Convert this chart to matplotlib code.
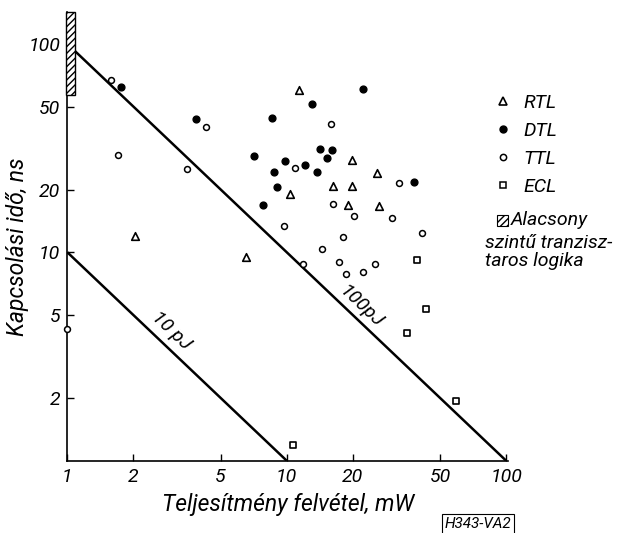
import matplotlib
matplotlib.use('Agg')
import numpy as np
import matplotlib.pyplot as plt
from matplotlib.patches import Rectangle
from matplotlib.lines import Line2D

plt.rcParams['font.family'] = ['Roboto', 'DejaVu Sans']
plt.rcParams['font.style'] = 'italic'

# power (mW) / switching time (ns)
rtl_power = [11.4, 19.8, 25.7, 10.4, 16.2, 19.8, 18.95, 26.2, 6.53, 2.03]
rtl_delay = [59.7, 27.8, 23.9, 19.1, 20.7, 20.7, 16.9, 16.7, 9.5, 12.0]

dtl_power = [1.76, 3.85, 7.10, 8.61, 13.0, 22.2, 14.2, 16.1, 15.3, 9.79,
             12.1, 8.73, 13.7, 9.03, 38.0, 7.80]
dtl_delay = [62.0, 43.6, 28.8, 44.0, 51.3, 60.8, 31.3, 30.9, 28.4, 27.4,
             26.2, 24.4, 24.3, 20.6, 21.7, 16.9]

ttl_power = [1.58, 4.28, 1.70, 3.52, 15.9, 10.9, 32.4, 16.2, 20.2, 30.1,
             9.69, 41.5, 18.0, 14.5, 17.3, 11.8, 25.2, 18.7, 22.2, 1.0]
ttl_delay = [67.2, 39.8, 29.3, 25.2, 41.2, 25.3, 21.4, 17.0, 14.9, 14.6,
             13.3, 12.4, 11.8, 10.4, 8.96, 8.76, 8.79, 7.87, 8.02, 4.27]

ecl_power = [39.3, 43.2, 35.3, 58.8, 10.7]
ecl_delay = [9.16, 5.36, 4.11, 1.94, 1.19]

energies = [10, 100]          # pJ
energy_labels = ['10 pJ', '100pJ']
label_pos = [(2.97, 4.2), (21.7, 5.5)]

# low-level transistor logic band on the delay axis
lltl_delay = (56.9, 142)

fig = plt.figure(figsize=(6.17, 5.33), dpi=100)
ax = fig.add_axes([0.1091, 0.1356, 0.7143, 0.8418])

ax.set_xscale('log')
ax.set_yscale('log')
ax.set_xlim(1, 102)
ax.set_ylim(1, 142)

for e, lab, pos in zip(energies, energy_labels, label_pos):
    px = np.array([1, e])
    ax.plot(px, e / px, color='black', lw=1.8, solid_capstyle='butt')
    ax.text(pos[0], pos[1], lab, rotation=-43.5, rotation_mode='anchor',
            ha='center', va='center', fontsize=14)

ax.add_patch(Rectangle((0.983, lltl_delay[0]), 1.081 - 0.983,
                       lltl_delay[1] - lltl_delay[0], facecolor='white',
                       edgecolor='black', hatch='/////', lw=1.0,
                       clip_on=False, zorder=3))

ax.scatter(rtl_power, rtl_delay, marker='^', s=30, facecolors='white',
           edgecolors='black', linewidths=1.2, zorder=4, clip_on=False)
ax.scatter(dtl_power, dtl_delay, marker='o', s=24, color='black', zorder=4,
           clip_on=False)
ax.scatter(ttl_power, ttl_delay, marker='o', s=18, facecolors='white',
           edgecolors='black', linewidths=1.1, zorder=4, clip_on=False)
ax.scatter(ecl_power, ecl_delay, marker='s', s=22, facecolors='white',
           edgecolors='black', linewidths=1.2, zorder=4, clip_on=False)

for s in ['top', 'right']:
    ax.spines[s].set_visible(False)
for s in ['left', 'bottom']:
    ax.spines[s].set_linewidth(1.2)

xt = [1, 2, 5, 10, 20, 50, 100]
yt = [2, 5, 10, 20, 50, 100]
ax.set_xticks(xt)
ax.set_xticklabels([str(v) for v in xt])
ax.set_yticks(yt)
ax.set_yticklabels([str(v) for v in yt])
ax.minorticks_off()
ax.tick_params(direction='in', length=5, width=1.0, labelsize=14, pad=5)

ax.set_xlabel('Teljesítmény felvétel, mW', fontsize=16.5, labelpad=5)
ax.set_ylabel('Kapcsolási idő, ns', fontsize=16.5)
ax.yaxis.set_label_coords(-0.087, 0.478)

handles = [
    Line2D([], [], ls='', marker='^', ms=6, mfc='white', mec='black', mew=1.2),
    Line2D([], [], ls='', marker='o', ms=5, color='black'),
    Line2D([], [], ls='', marker='o', ms=4.5, mfc='white', mec='black', mew=1.1),
    Line2D([], [], ls='', marker='s', ms=4.5, mfc='white', mec='black', mew=1.1),
]
ax.legend(handles, ['RTL', 'DTL', 'TTL', 'ECL'], loc='upper left',
          bbox_to_anchor=(493 / 617, 1 - 94 / 533), bbox_transform=fig.transFigure,
          frameon=False, fontsize=14, handlelength=1.0, handletextpad=0.55,
          labelspacing=0.51, borderpad=0, borderaxespad=0)

fig.patches.append(Rectangle((497 / 617, 1 - 226 / 533), 11 / 617, 11 / 533,
                             transform=fig.transFigure, facecolor='white',
                             edgecolor='black', hatch='/////', lw=0.8))
fig.text(511 / 617, 1 - 220 / 533, 'Alacsony', fontsize=14, va='center')
fig.text(485 / 617, 1 - 252 / 533, 'szintű tranzisz-\ntaros logika',
         fontsize=14, va='center', linespacing=1.0)

fig.text(478 / 617, 1 - 524 / 533, 'H343-VA2', fontsize=11, ha='center',
         va='center', bbox=dict(boxstyle='square,pad=0.2', fc='white',
                                ec='black', lw=0.8))

fig.savefig('out.png', dpi=100)
